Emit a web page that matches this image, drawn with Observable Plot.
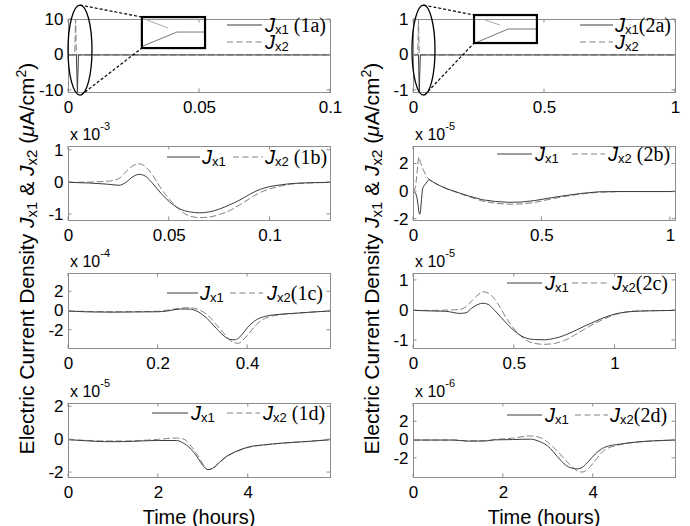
<!DOCTYPE html>
<html>
<head>
<meta charset="utf-8">
<script src="https://cdn.jsdelivr.net/npm/d3@7"></script>
<script src="https://cdn.jsdelivr.net/npm/@observablehq/plot@0.6"></script>
<style>
html,body{margin:0;padding:0;background:#fff;}
#fig{position:relative;width:690px;height:526px;overflow:hidden;background:#fff;}
#fig > svg{position:absolute;}
</style>
</head>
<body>
<div id="fig"></div>
<script>
// ---------------- data (time in hours, current density in the panel's units) ----------------
// Panel 1a (μA/cm²)
const t1a    = [0, 0.0024, 0.0027, 0.0030, 0.0034, 0.0038, 0.1];
const jx1_1a = [0, 0, 0, 0, -10.5, 0, 0];
const jx2_1a = [0, 0, 10, 0, 0, 0, 0];
// Panel 1b (x 10^-3)
const t1b    = [0, 0.01, 0.02, 0.025, 0.028, 0.032, 0.035, 0.038, 0.042, 0.046, 0.05, 0.055, 0.06, 0.065, 0.07, 0.075, 0.08, 0.085, 0.09, 0.095, 0.1, 0.105, 0.11, 0.12, 0.13];
const jx1_1b = [0, -0.02, -0.06, -0.09, -0.02, 0.18, 0.25, 0.2, -0.05, -0.35, -0.6, -0.82, -0.92, -0.95, -0.92, -0.83, -0.7, -0.55, -0.37, -0.22, -0.13, -0.08, -0.04, -0.01, 0];
const jx2_1b = [0, 0.01, 0.04, 0.12, 0.3, 0.52, 0.58, 0.5, 0.2, -0.2, -0.52, -0.85, -1.05, -1.1, -1.08, -1.0, -0.88, -0.7, -0.5, -0.32, -0.2, -0.12, -0.06, -0.02, 0];
// Panel 1c (x 10^-4)
const t1c    = [0, 0.05, 0.1, 0.15, 0.2, 0.22, 0.25, 0.27, 0.29, 0.31, 0.33, 0.35, 0.36, 0.37, 0.38, 0.39, 0.4, 0.42, 0.44, 0.47, 0.5, 0.54, 0.585];
const jx1_1c = [0, -0.1, -0.12, -0.1, -0.08, 0, 0.2, 0.2, -0.1, -0.8, -1.8, -2.7, -2.95, -3.0, -2.8, -2.3, -1.7, -0.9, -0.55, -0.35, -0.25, -0.12, 0];
const jx2_1c = [0, -0.05, -0.08, -0.06, -0.03, 0.08, 0.3, 0.35, 0.15, -0.4, -1.4, -2.5, -3.0, -3.3, -3.35, -3.0, -2.5, -1.4, -0.75, -0.4, -0.28, -0.13, 0];
// Panel 1d (x 10^-5)
const t1d    = [0, 0.3, 0.8, 1.2, 1.6, 2.0, 2.4, 2.55, 2.7, 2.85, 3.0, 3.1, 3.2, 3.35, 3.5, 3.7, 4.0, 4.4, 4.8, 5.2, 5.83];
const jx1_1d = [0, -0.05, -0.12, -0.12, -0.08, -0.05, -0.05, -0.2, -0.5, -1.0, -1.6, -1.82, -1.75, -1.4, -1.05, -0.75, -0.45, -0.3, -0.2, -0.13, 0];
const jx2_1d = [0, -0.03, -0.08, -0.08, -0.05, 0.02, 0.1, 0.05, -0.3, -0.85, -1.5, -1.82, -1.78, -1.42, -1.08, -0.77, -0.47, -0.31, -0.2, -0.13, 0];
// Panel 2a (μA/cm²)
const t2a    = [0, 0.012, 0.016, 0.019, 0.022, 0.026, 1];
const jx1_2a = [0, 0, 0, 0, -1.04, 0, 0];
const jx2_2a = [0, 0, 0, 1, 0, 0, 0];
// Panel 2b (x 10^-5)
const t2b    = [0, 0.008, 0.013, 0.018, 0.021, 0.024, 0.027, 0.031, 0.035, 0.04, 0.047, 0.054, 0.06, 0.08, 0.1, 0.13, 0.17, 0.22, 0.27, 0.32, 0.37, 0.42, 0.47, 0.52, 0.58, 0.65, 0.72, 0.8, 1.02];
const jx1_2b = [0, -0.1, -0.4, -1.0, -1.5, -1.65, -1.5, -0.6, 0.2, 0.4, 0.55, 0.75, 0.88, 0.65, 0.45, 0.2, -0.05, -0.35, -0.6, -0.72, -0.78, -0.76, -0.66, -0.5, -0.32, -0.14, -0.02, 0, 0];
const jx2_2b = [0, 0.3, 1.2, 2.2, 2.5, 2.4, 2.1, 1.9, 1.7, 1.5, 1.25, 1.0, 0.88, 0.65, 0.45, 0.2, -0.07, -0.4, -0.7, -0.85, -0.92, -0.9, -0.8, -0.6, -0.38, -0.18, -0.05, 0, 0];
// Panel 2c (x 10^-5)
const t2c    = [0, 0.1, 0.16, 0.23, 0.26, 0.29, 0.32, 0.345, 0.37, 0.4, 0.43, 0.46, 0.5, 0.55, 0.6, 0.65, 0.7, 0.75, 0.8, 0.85, 0.9, 0.95, 1.0, 1.05, 1.1, 1.2, 1.3];
const jx1_2c = [0, -0.02, -0.03, -0.1, -0.08, 0.08, 0.2, 0.24, 0.2, 0.02, -0.2, -0.42, -0.68, -0.9, -0.97, -0.98, -0.93, -0.83, -0.68, -0.52, -0.37, -0.23, -0.12, -0.06, -0.03, -0.01, 0];
const jx2_2c = [0, 0, 0.01, 0.03, 0.12, 0.32, 0.52, 0.62, 0.58, 0.4, 0.1, -0.25, -0.62, -0.95, -1.1, -1.13, -1.1, -1.0, -0.82, -0.62, -0.43, -0.27, -0.14, -0.06, -0.02, -0.01, 0];
// Panel 2d (x 10^-6)
const t2d    = [0, 0.9, 1.2, 1.6, 1.8, 2.2, 2.6, 2.8, 3.0, 3.2, 3.4, 3.55, 3.65, 3.75, 3.9, 4.05, 4.25, 4.6, 5.0, 5.5, 5.83];
const jx1_2d = [0, 0, -0.12, -0.1, 0.02, 0.05, 0.1, -0.15, -0.7, -1.8, -2.8, -3.1, -3.15, -3.0, -2.3, -1.5, -0.8, -0.44, -0.2, -0.05, 0];
const jx2_2d = [0, 0, -0.08, -0.08, 0.05, 0.2, 0.45, 0.3, -0.3, -1.2, -2.3, -3.0, -3.4, -3.5, -3.1, -2.2, -1.1, -0.5, -0.22, -0.06, 0];

// tick values
const xt_1a = [0, 0.05, 0.1], yt_1a = [-10, 0, 10];
const xt_1b = [0, 0.05, 0.1], yt_1b = [-1, 0, 1];
const xt_1c = [0, 0.2, 0.4],  yt_1c = [-2, 0, 2];
const xt_1d = [0, 2, 4],      yt_1d = [-2, 0, 2];
const xt_2a = [0, 0.5, 1],    yt_2a = [-1, 0, 1];
const xt_2b = [0, 0.5, 1],    yt_2b = [-2, 0, 2];
const xt_2c = [0, 0.5, 1],    yt_2c = [-1, 0, 1];
const xt_2d = [0, 2, 4],      yt_2d = [-2, 0, 2];

// ---------------- styling / layout ----------------
const FONT = "'Liberation Sans', Arial, Helvetica, sans-serif";
const SERIF = "'Liberation Serif', 'Times New Roman', serif";
const C_J1 = "#3c3c3c", C_J2 = "#808080", C_FRAME = "#8c8c8c", DASH = "6,3.5";
const colLeft = [68, 413], frameW = 262;
const rowTop = [19, 146, 273, 403], rowH = [73, 74, 75, 74];
const ML = 55, MR = 25, MT = 32, MB = 30;

const panels = [
  {col:0,row:0,t:t1a,j1:jx1_1a,j2:jx2_1a,xd:[0,0.1],xt:xt_1a,yd:[-10.6,10],yt:yt_1a,exp:null,curve:"linear",
   leg:[{k:1,x0:-103,x1:-68,y:6,tx:-65,suf:" (1a)"},{k:2,x0:-103,x1:-68,y:23,tx:-65,suf:""}],
   ann:{ell:[0.00458,1.24,0.00458,12.7], box:[0.0282,0.0523,1.8,10.55],
        in1:[[0.0286,2.37],[0.0416,6.32],[0.0523,6.32]], in2:[[0.0302,9.7],[0.0382,7.45]]}},
  {col:0,row:1,t:t1b,j1:jx1_1b,j2:jx2_1b,xd:[0,0.13],xt:xt_1b,yd:[-1.19,1.12],yt:yt_1b,exp:"-3",curve:"monotone-x",
   leg:[{k:1,x0:-163,x1:-130,y:11,tx:-128,suf:""},{k:2,x0:-97,x1:-67,y:11,tx:-65,suf:" (1b)"}]},
  {col:0,row:2,t:t1c,j1:jx1_1c,j2:jx2_1c,xd:[0,0.585],xt:xt_1c,yd:[-3.9,3.9],yt:yt_1c,exp:"-4",curve:"monotone-x",
   leg:[{k:1,x0:-163,x1:-132,y:20,tx:-130,suf:""},{k:2,x0:-100,x1:-67,y:20,tx:-63,suf:"(1c)"}]},
  {col:0,row:3,t:t1d,j1:jx1_1d,j2:jx2_1d,xd:[0,5.83],xt:xt_1d,yd:[-2.3,2.2],yt:yt_1d,exp:"-5",curve:"monotone-x",
   leg:[{k:1,x0:-178,x1:-142,y:10,tx:-139,suf:""},{k:2,x0:-103,x1:-70,y:10,tx:-67,suf:" (1d)"}]},
  {col:1,row:0,t:t2a,j1:jx1_2a,j2:jx2_2a,xd:[0,1],xt:xt_2a,yd:[-1.06,1],yt:yt_2a,exp:null,curve:"linear",
   leg:[{k:1,x0:-95,x1:-62,y:6,tx:-60,suf:"(2a)"},{k:2,x0:-95,x1:-62,y:23,tx:-60,suf:""}],
   ann:{ell:[0.0401,0.124,0.0439,1.27], box:[0.233,0.473,0.322,1.112],
        in1:[[0.237,0.322],[0.363,0.717],[0.473,0.717]], in2:[[0.275,0.971],[0.332,0.83]]}},
  {col:1,row:1,t:t2b,j1:jx1_2b,j2:jx2_2b,xd:[0,1.02],xt:xt_2b,yd:[-2.1,3.27],yt:yt_2b,exp:"-5",curve:"linear",
   leg:[{k:1,x0:-178,x1:-143,y:8,tx:-140,suf:""},{k:2,x0:-103,x1:-70,y:8,tx:-67,suf:" (2b)"}]},
  {col:1,row:2,t:t2c,j1:jx1_2c,j2:jx2_2c,xd:[0,1.3],xt:xt_2c,yd:[-1.27,1.23],yt:yt_2c,exp:"-5",curve:"monotone-x",
   leg:[{k:1,x0:-168,x1:-133,y:10,tx:-130,suf:""},{k:2,x0:-103,x1:-65,y:10,tx:-63,suf:"(2c)"}]},
  {col:1,row:3,t:t2d,j1:jx1_2d,j2:jx2_2d,xd:[0,5.83],xt:xt_2d,yd:[-4.1,4],yt:yt_2d,exp:"-6",curve:"monotone-x",
   leg:[{k:1,x0:-168,x1:-133,y:12,tx:-130,suf:""},{k:2,x0:-100,x1:-67,y:12,tx:-65,suf:"(2d)"}]}
];

// ---------------- helper render marks ----------------
function ticksMark(xt, yt) {
  return (index, scales, values, dim) => {
    const g = d3.create("svg:g").attr("stroke", C_FRAME).attr("stroke-width", 1);
    const L = dim.marginLeft, R = dim.width - dim.marginRight, T = dim.marginTop, B = dim.height - dim.marginBottom;
    const n = 3.5;
    for (const v of xt) {
      const x = scales.x(v);
      g.append("line").attr("x1", x).attr("x2", x).attr("y1", B).attr("y2", B - n);
      g.append("line").attr("x1", x).attr("x2", x).attr("y1", T).attr("y2", T + n);
    }
    for (const v of yt) {
      const y = scales.y(v);
      g.append("line").attr("y1", y).attr("y2", y).attr("x1", L).attr("x2", L + n);
      g.append("line").attr("y1", y).attr("y2", y).attr("x1", R).attr("x2", R - n);
    }
    return g.node();
  };
}

function legendMark(leg) {
  return (index, scales, values, dim) => {
    const g = d3.create("svg:g").attr("text-anchor", "start");
    const R = dim.width - dim.marginRight, T = dim.marginTop;
    for (const e of leg) {
      g.append("line").attr("x1", R + e.x0).attr("x2", R + e.x1)
        .attr("y1", T + e.y).attr("y2", T + e.y)
        .attr("stroke", e.k === 1 ? C_J1 : C_J2).attr("stroke-width", 1)
        .attr("stroke-dasharray", e.k === 2 ? DASH : null);
      const tx = g.append("text").attr("x", R + e.tx).attr("y", T + e.y + 7)
        .attr("text-anchor", "start")
        .attr("font-size", 20).attr("fill", "black").attr("font-family", FONT);
      tx.append("tspan").attr("font-style", "italic").text("J");
      tx.append("tspan").attr("font-size", 13).attr("dy", 2).text(e.k === 1 ? "x1" : "x2");
      if (e.suf) tx.append("tspan").attr("dy", -2).attr("font-family", SERIF).text(e.suf);
    }
    return g.node();
  };
}

function expMark(exp) {
  return (index, scales, values, dim) => {
    const g = d3.create("svg:g").attr("text-anchor", "start");
    const tx = g.append("text").attr("x", dim.marginLeft + 2).attr("y", dim.marginTop - 6)
      .attr("text-anchor", "start")
      .attr("font-size", 16).attr("fill", "black").attr("font-family", FONT);
    tx.append("tspan").text("x 10");
    tx.append("tspan").attr("font-size", 11).attr("dy", -10).text(exp);
    return g.node();
  };
}

function zoomMark(a) {
  return (index, {x, y}) => {
    const g = d3.create("svg:g").attr("fill", "none");
    const [ecx, ecy, erx, ery] = a.ell;
    const cx = x(ecx), cy = y(ecy), rx = x(ecx + erx) - cx, ry = cy - y(ecy + ery);
    const bx1 = x(a.box[0]), bx2 = x(a.box[1]), by1 = y(a.box[3]), by2 = y(a.box[2]);
    g.append("path").attr("d", d3.line()(a.in1.map(([u, v]) => [x(u), y(v)])))
      .attr("stroke", "#777").attr("stroke-width", 1);
    g.append("path").attr("d", d3.line()(a.in2.map(([u, v]) => [x(u), y(v)])))
      .attr("stroke", "#aaa").attr("stroke-width", 1);
    g.append("ellipse").attr("cx", cx).attr("cy", cy).attr("rx", rx).attr("ry", ry)
      .attr("stroke", "black").attr("stroke-width", 1.3);
    g.append("line").attr("x1", cx).attr("y1", cy - ry).attr("x2", bx1).attr("y2", by1)
      .attr("stroke", "black").attr("stroke-width", 1.2).attr("stroke-dasharray", "3,2");
    g.append("line").attr("x1", cx + 1).attr("y1", cy + ry).attr("x2", bx1).attr("y2", by2)
      .attr("stroke", "black").attr("stroke-width", 1.2).attr("stroke-dasharray", "3,2");
    g.append("rect").attr("x", bx1).attr("y", by1).attr("width", bx2 - bx1).attr("height", by2 - by1)
      .attr("stroke", "black").attr("stroke-width", 2.2);
    return g.node();
  };
}

// ---------------- build panels ----------------
const fig = document.getElementById("fig");
const fmt = d => String(d);

for (const p of panels) {
  const rows = p.t.map((t, i) => ({t, j1: p.j1[i], j2: p.j2[i]}));
  const h = rowH[p.row];
  const marks = [
    Plot.line(rows, {x: "t", y: "j2", stroke: C_J2, strokeWidth: 1, strokeDasharray: DASH, curve: p.curve}),
    Plot.line(rows, {x: "t", y: "j1", stroke: C_J1, strokeWidth: 1, curve: p.curve}),
    Plot.frame({stroke: C_FRAME, strokeWidth: 1}),
    ticksMark(p.xt, p.yt),
    legendMark(p.leg)
  ];
  if (p.exp) marks.push(expMark(p.exp));
  if (p.ann) marks.push(zoomMark(p.ann));
  const svg = Plot.plot({
    width: frameW + ML + MR,
    height: h + MT + MB,
    marginLeft: ML, marginRight: MR, marginTop: MT, marginBottom: MB,
    style: {fontFamily: FONT, fontSize: "17px", background: "transparent", color: "black", overflow: "visible"},
    x: {domain: p.xd, ticks: p.xt, tickFormat: fmt, tickSize: 0, tickPadding: 8, label: null},
    y: {domain: p.yd, ticks: p.yt, tickFormat: fmt, tickSize: 0, tickPadding: 5, label: null},
    marks
  });
  svg.style.position = "absolute";
  svg.style.left = (colLeft[p.col] - ML) + "px";
  svg.style.top = (rowTop[p.row] - MT) + "px";
  svg.style.maxWidth = "none";
  fig.appendChild(svg);
}

// ---------------- shared axis titles ----------------
const over = d3.select(fig).append("svg")
  .attr("width", 690).attr("height", 526)
  .style("left", "0px").style("top", "0px").style("pointer-events", "none")
  .attr("font-family", FONT);

function yTitle(x, y) {
  const t = over.append("text").attr("transform", `translate(${x},${y}) rotate(-90)`)
    .attr("text-anchor", "middle").attr("font-size", 21).attr("fill", "black");
  t.append("tspan").text("Electric Current Density ");
  t.append("tspan").attr("font-style", "italic").text("J");
  t.append("tspan").attr("font-size", 15).attr("dy", 3).text("x1");
  t.append("tspan").attr("dy", -3).text("  &  ");
  t.append("tspan").attr("font-style", "italic").text("J");
  t.append("tspan").attr("font-size", 15).attr("dy", 3).text("x2");
  t.append("tspan").attr("dy", -3).text(" (");
  t.append("tspan").attr("font-style", "italic").text("\u03bc");
  t.append("tspan").text("A/cm");
  t.append("tspan").attr("font-size", 14).attr("dy", -8).text("2");
  t.append("tspan").attr("dy", 8).text(")");
}
yTitle(33.5, 258.5);
yTitle(378.5, 258.5);

for (const c of [0, 1]) {
  over.append("text").attr("x", colLeft[c] + frameW / 2).attr("y", 524)
    .attr("text-anchor", "middle").attr("font-size", 20).attr("fill", "black")
    .text("Time (hours)");
}
</script>
</body>
</html>
